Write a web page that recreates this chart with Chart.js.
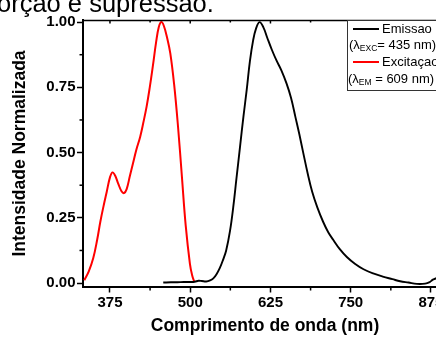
<!DOCTYPE html>
<html><head><meta charset="utf-8">
<script src="https://cdn.jsdelivr.net/npm/chart.js@4.4.1/dist/chart.umd.min.js"></script>
<style>
html,body{margin:0;padding:0;background:#fff;overflow:hidden;width:436px;height:338px;}
#wrap{position:relative;width:436px;height:338px;overflow:hidden;}
#c{position:absolute;left:0;top:0;}
#head{position:absolute;left:-3px;top:-9px;font:25.5px/25.5px "Liberation Sans",Arial,sans-serif;color:#000;white-space:nowrap;}
</style></head><body>
<div id="wrap"><canvas id="c" width="470" height="338"></canvas><div id="head">orção e supressão.</div></div>
<script>
// Emission spectrum (λexc = 435 nm)
const emWavelength = [458,470,480,490,500,507,513,518,525,531,536,541,546,551,556,562,567,572,577.5,583,588,593,598,602.5,608,614,620,627,634,642,650,657,664,670,676,683,690,698,707,715,723,733,744,757,770,785,800,815,827,840,853,866,873,878,885];
const emIntensity  = [0.002,0.003,0.003,0.004,0.004,0.005,0.009,0.008,0.006,0.01,0.018,0.034,0.057,0.088,0.125,0.20,0.29,0.40,0.52,0.64,0.74,0.85,0.93,0.975,1.0,0.98,0.94,0.895,0.855,0.815,0.765,0.71,0.635,0.57,0.50,0.42,0.35,0.29,0.235,0.195,0.165,0.13,0.10,0.073,0.053,0.037,0.025,0.015,0.007,0.002,-0.003,-0.002,0.004,0.013,0.02];
// Excitation spectrum (λem = 609 nm)
const exWavelength = [335,342,349,355,360,365,370,375,379,383,388,393,397,401,406,411,416,422,427,432,437,442,447,451,455,459,464,469,475,481,487,493,499.5,503,506.5];
const exIntensity  = [0.011,0.045,0.096,0.165,0.235,0.295,0.35,0.405,0.424,0.412,0.38,0.352,0.345,0.36,0.41,0.46,0.51,0.56,0.615,0.675,0.75,0.835,0.925,0.98,1.0,0.985,0.94,0.88,0.76,0.60,0.41,0.22,0.075,0.03,0.004];
const seriesNames = ['Emissao','Excitaçao'];
const xTickValues = [375,500,625,750,875];
const yTickValues = [0,0.25,0.5,0.75,1.0];
const xRange = [333,900];
const yRange = [-0.015,1.008];

const FONT = '"Liberation Sans", Arial, sans-serif';
Chart.defaults.font.family = FONT;
Chart.defaults.color = '#000';

const toPts = (xs, ys) => xs.map((v,i)=>({x:v,y:ys[i]}));
const mid = arr => arr.slice(0,-1).map((v,i)=>(v+arr[i+1])/2);

const framePlugin = {
  id:'frame',
  afterDraw(chart){
    const {ctx, chartArea:a, scales:{x,y}} = chart;
    ctx.save();
    ctx.strokeStyle='#000';
    ctx.lineWidth=1.3;
    ctx.beginPath(); ctx.moveTo(a.left,a.top+0.5); ctx.lineTo(a.right,a.top+0.5); ctx.lineTo(a.right,a.bottom); ctx.stroke();
    ctx.lineWidth=1.5;
    const step = xTickValues[1]-xTickValues[0];
    const xMinor = mid([xTickValues[0]-step,...xTickValues,xTickValues[xTickValues.length-1]+step]).filter(v=>v>xRange[0]&&v<xRange[1]);
    xMinor.forEach(v=>{const p=x.getPixelForValue(v);
      ctx.beginPath();ctx.moveTo(p,a.bottom);ctx.lineTo(p,a.bottom+3.5);ctx.stroke();
      ctx.beginPath();ctx.moveTo(p,a.top);ctx.lineTo(p,a.top+2.5);ctx.stroke();});
    xTickValues.forEach(v=>{const p=x.getPixelForValue(v);
      ctx.beginPath();ctx.moveTo(p,a.top);ctx.lineTo(p,a.top+3.5);ctx.stroke();});
    mid(yTickValues).forEach(v=>{const p=y.getPixelForValue(v);
      ctx.beginPath();ctx.moveTo(a.left,p);ctx.lineTo(a.left-3.5,p);ctx.stroke();});
    // legend
    const L=347,T=20,R=470,B=90;
    ctx.fillStyle='#fff';ctx.fillRect(L,T,R-L,B-T);
    ctx.lineWidth=1;ctx.strokeStyle='#333';ctx.strokeRect(L+0.5,T+0.5,R-L,B-T);
    ctx.lineWidth=2;
    const rows=[{c:'#000',yy:29,t:seriesNames[0]},{c:'#ff0000',yy:62,t:seriesNames[1]}];
    ctx.textBaseline='middle';ctx.fillStyle='#000';
    rows.forEach(r=>{ctx.strokeStyle=r.c;ctx.beginPath();ctx.moveTo(353,r.yy);ctx.lineTo(379,r.yy);ctx.stroke();
      ctx.font='13px '+FONT;ctx.fillText(r.t,382,r.yy+0.5);});
    const sub=(x0,yy,sb,rest)=>{
      ctx.font='13px '+FONT;ctx.fillText('(λ',x0,yy);let w=ctx.measureText('(λ').width;
      ctx.font='8.5px '+FONT;ctx.fillText(sb,x0+w,yy+4);w+=ctx.measureText(sb).width;
      ctx.font='13px '+FONT;ctx.fillText(rest,x0+w,yy);};
    sub(349,45,'EXC','= 435 nm)');
    sub(348,79,'EM',' = 609 nm)');
    ctx.restore();
  }
};

new Chart(document.getElementById('c'),{
  type:'line',
  data:{datasets:[
    {label:seriesNames[0],data:toPts(emWavelength,emIntensity),borderColor:'#000',borderWidth:1.9,pointRadius:0,tension:0.4,fill:false},
    {label:seriesNames[1],data:toPts(exWavelength,exIntensity),borderColor:'#ff0000',borderWidth:2,pointRadius:0,tension:0.4,fill:false}
  ]},
  options:{
    responsive:false,animation:false,
    layout:{padding:{left:0,top:20,right:23,bottom:0}},
    plugins:{legend:{display:false},tooltip:{enabled:false}},
    scales:{
      x:{type:'linear',min:xRange[0],max:xRange[1],
        afterBuildTicks:s=>{s.ticks=xTickValues.map(v=>({value:v}));},
        afterFit:s=>{s.height=51;},
        ticks:{font:{size:15,weight:'bold'},padding:1.5,maxRotation:0,callback:v=>String(v)},
        grid:{drawOnChartArea:false,drawTicks:true,tickLength:5.5,tickColor:'#000',tickWidth:1.5},
        border:{display:true,color:'#000',width:2},
        title:{display:true,text:'Comprimento de onda (nm)',font:{size:17.5,weight:'bold'},padding:{top:0,bottom:1}}},
      y:{type:'linear',min:yRange[0],max:yRange[1],
        afterBuildTicks:s=>{s.ticks=yTickValues.map(v=>({value:v}));},
        afterFit:s=>{s.width=83;},
        ticks:{font:{size:15,weight:'bold'},padding:1.5,callback:v=>Number(v).toFixed(2)},
        grid:{drawOnChartArea:false,drawTicks:true,tickLength:6,tickColor:'#000',tickWidth:1.5},
        border:{display:true,color:'#000',width:2},
        title:{display:true,text:'Intensidade Normalizada',font:{size:17.5,weight:'bold'},padding:{top:10,bottom:0}}}
    }
  },
  plugins:[framePlugin]
});
</script>
</body></html>
